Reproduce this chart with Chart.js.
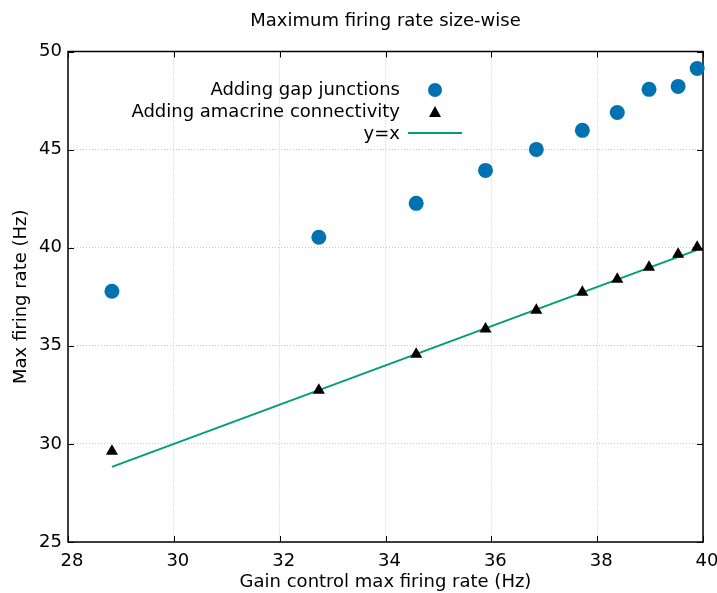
<!DOCTYPE html>
<html>
<head>
<meta charset="utf-8">
<script src="https://cdn.jsdelivr.net/npm/chart.js@4/dist/chart.umd.min.js"></script>
<style>
  html, body { margin: 0; padding: 0; background: #fff; }
  #wrap { width: 717px; height: 593px; }
</style>
</head>
<body>
<div id="wrap"><canvas id="c" width="717" height="593"></canvas></div>
<script>
// ---- data ----
const gainRate      = [28.83, 32.74, 34.58, 35.89, 36.85, 37.72, 38.38, 38.98, 39.53, 39.89];
const gapJunctions  = [37.78, 40.53, 42.26, 43.94, 45.01, 45.98, 46.89, 48.07, 48.22, 49.13];
const amacrine      = [29.63, 32.74, 34.57, 35.85, 36.81, 37.73, 38.39, 39.00, 39.66, 40.02];
const identityX     = [gainRate[0], gainRate[gainRate.length - 1]];
const xTicks        = [28, 30, 32, 34, 36, 38, 40];
const yTicks        = [25, 30, 35, 40, 45, 50];
const seriesLabels  = ['Adding gap junctions', 'Adding amacrine connectivity', 'y=x'];

const FONT = "'DejaVu Sans', sans-serif";
const FS = 18;
const BLUE = '#0072B2', GREEN = '#009E73';

const framePlugin = {
  id: 'frame',
  beforeDatasetsDraw(chart) {
    const {ctx, chartArea: a, scales: {x, y}} = chart;
    ctx.save();
    ctx.strokeStyle = '#000';
    ctx.lineWidth = 1.5;
    ctx.strokeRect(a.left, a.top, a.right - a.left, a.bottom - a.top);
    ctx.lineWidth = 1;
    const L = 6;
    ctx.beginPath();
    xTicks.forEach(v => {
      const px = Math.round(x.getPixelForValue(v)) + 0.5;
      ctx.moveTo(px, a.bottom); ctx.lineTo(px, a.bottom - L);
      ctx.moveTo(px, a.top); ctx.lineTo(px, a.top + L);
    });
    yTicks.forEach(v => {
      const py = Math.round(y.getPixelForValue(v)) + 0.5;
      ctx.moveTo(a.left, py); ctx.lineTo(a.left + L, py);
      ctx.moveTo(a.right, py); ctx.lineTo(a.right - L, py);
    });
    ctx.stroke();
    ctx.restore();
  }
};

const legendPlugin = {
  id: 'innerLegend',
  afterDraw(chart) {
    const {ctx} = chart;
    const textRight = 400, symX = 435, rowY = [90, 112, 134];
    ctx.save();
    ctx.font = FS + "px " + FONT;
    ctx.fillStyle = '#000';
    ctx.textAlign = 'right';
    ctx.textBaseline = 'middle';
    seriesLabels.forEach((t, i) => ctx.fillText(t, textRight, rowY[i]));
    ctx.fillStyle = BLUE;
    ctx.beginPath(); ctx.arc(symX, rowY[0], 7, 0, Math.PI * 2); ctx.fill();
    ctx.fillStyle = '#000';
    ctx.beginPath();
    ctx.moveTo(symX, rowY[1] - 6); ctx.lineTo(symX + 6, rowY[1] + 5); ctx.lineTo(symX - 6, rowY[1] + 5);
    ctx.closePath(); ctx.fill();
    ctx.strokeStyle = GREEN; ctx.lineWidth = 2;
    ctx.beginPath(); ctx.moveTo(408, rowY[2] - 1); ctx.lineTo(462, rowY[2] - 1); ctx.stroke();
    ctx.restore();
  }
};

new Chart(document.getElementById('c'), {
  type: 'scatter',
  data: {
    datasets: [
      {
        label: seriesLabels[0],
        data: gainRate.map((g, i) => ({x: g, y: gapJunctions[i]})),
        pointStyle: 'circle', pointRadius: 7.5, pointBackgroundColor: BLUE,
        pointBorderWidth: 0, showLine: false, clip: false, order: 2
      },
      {
        label: seriesLabels[1],
        data: gainRate.map((g, i) => ({x: g, y: amacrine[i]})),
        pointStyle: 'triangle', pointRadius: 7, pointBackgroundColor: '#000',
        pointBorderColor: '#000', pointBorderWidth: 0, showLine: false, clip: false, order: 1
      },
      {
        label: seriesLabels[2],
        data: identityX.map(v => ({x: v, y: v})),
        showLine: true, borderColor: GREEN, borderWidth: 2, pointRadius: 0,
        fill: false, clip: false, order: 3
      }
    ]
  },
  options: {
    responsive: false,
    animation: false,
    layout: { padding: { left: 0, right: 14, top: 0, bottom: 0 } },
    plugins: {
      legend: { display: false },
      tooltip: { enabled: false },
      title: {
        display: true,
        text: 'Maximum firing rate size-wise',
        fullSize: false,
        color: '#000',
        font: { family: FONT, size: FS, weight: 'normal' },
        padding: { top: 10.5, bottom: 19.4 }
      }
    },
    scales: {
      x: {
        type: 'linear', min: 28, max: 40,
        afterFit(s) { s.height = 51; s.paddingLeft = 0; s.paddingRight = 0; },
        ticks: { stepSize: 2, color: '#000', font: { family: FONT, size: FS }, padding: 9,
                 labelOffset: 4, maxRotation: 0 },
        grid: { color: '#c8c8c8', borderDash: [1, 2], drawTicks: false, lineWidth: 1 },
        border: { display: false, dash: [1, 2] },
        title: { display: true, text: 'Gain control max firing rate (Hz)', color: '#000',
                 font: { family: FONT, size: FS }, padding: { top: 0, bottom: 0 } }
      },
      y: {
        type: 'linear', min: 25, max: 50,
        afterFit(s) { s.width = 68; s.paddingTop = 0; s.paddingBottom = 0; },
        ticks: { stepSize: 5, color: '#000', font: { family: FONT, size: FS }, padding: 6 },
        grid: { color: '#c8c8c8', drawTicks: false, lineWidth: 1 },
        border: { display: false, dash: [1, 2] },
        title: { display: true, text: 'Max firing rate (Hz)', color: '#000',
                 font: { family: FONT, size: FS }, padding: { top: 11, bottom: 0 } }
      }
    }
  },
  plugins: [framePlugin, legendPlugin]
});
</script>
</body>
</html>
